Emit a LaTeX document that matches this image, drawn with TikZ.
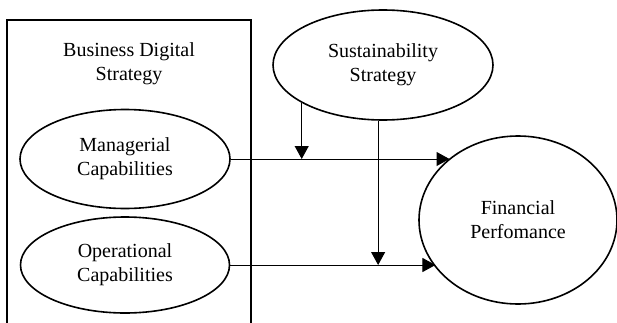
\documentclass[tikz,border=0pt]{standalone}
\usepackage{fontspec}
\setmainfont{Liberation Serif}
\usetikzlibrary{shapes.geometric,arrows.meta}

\tikzset{
  oval/.style={draw, ellipse, line width=1.6pt, inner sep=0pt, align=center,
    font=\fontsize{20}{24}\selectfont},
  link/.style={line width=1pt, -{Triangle[length=13pt,width=14pt]}}
}

\begin{document}
\begin{tikzpicture}[x=1pt,y=1pt]
      \clip (0,0) rectangle (617,322);

      % box round the two capabilities
      \draw[line width=1.6pt] (7,302) rectangle (251,-20);
      \node[align=center, font=\fontsize{20}{24}\selectfont] (bds) at (129,258) {Business Digital\\Strategy};

      \node[oval, minimum width=210pt, minimum height=99pt] (mc) at (125,163) {Managerial\\Capabilities};
      \node[oval, minimum width=209pt, minimum height=96pt, below of=mc, node distance=106pt] (oc) {Operational\\Capabilities};
      \node[oval, minimum width=220pt, minimum height=110pt] (ss) at (383,257) {Sustainability\\Strategy};
      \node[oval, minimum width=198pt, minimum height=168pt] (fp) at (518,102) {Financial\\Perfomance};

      \draw[link] (mc.east) -- (mc.east -| fp.138);
      \draw[link] (oc.east) -- (oc.east -| fp.210);
      \draw[link] (ss.205) -- (ss.205 |- mc.east);
      \draw[link] (ss.265) -- (ss.265 |- oc.east);
    \end{tikzpicture}
\end{document}
